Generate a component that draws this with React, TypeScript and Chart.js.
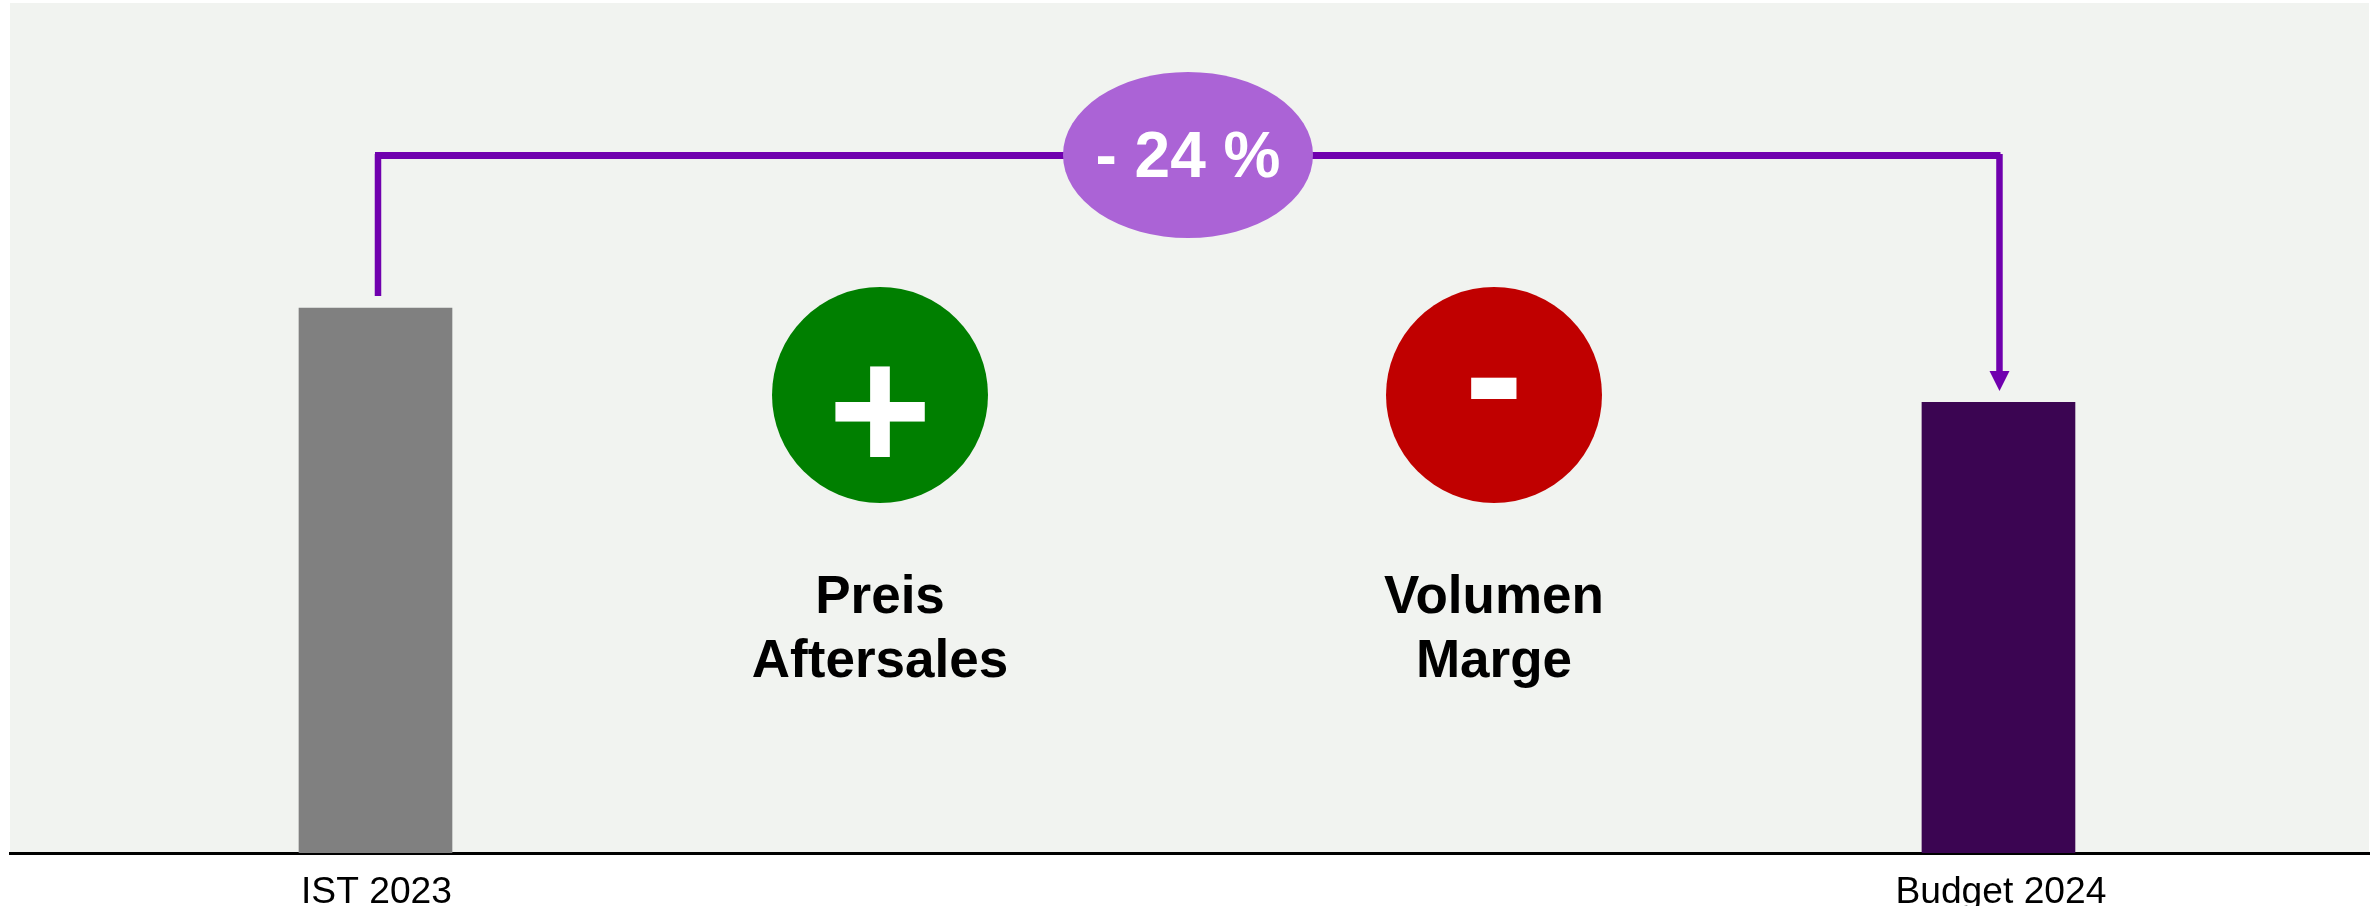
import React, { useEffect, useRef } from "react";
import { Chart, registerables } from "chart.js";

Chart.register(...registerables);

const categories = ["IST 2023", "Budget 2024"];
const categoryPositions = [1, 2];
const labelPositions = [1.0006, 2.0015];
const barValues = [100, 82.7];
const barColors = ["#808080", "#3B0552"];
const changeLabel = "- 24 %";
const positiveDrivers = ["Preis", "Aftersales"];
const negativeDrivers = ["Volumen", "Marge"];

const FONT = '"Liberation Sans", Arial, sans-serif';
const PURPLE = "#7000AE";

const overlay = {
  id: "overlay",
  beforeDraw(chart: any) {
    const { ctx, chartArea: a } = chart;
    ctx.save();
    ctx.fillStyle = "#F1F3F0";
    ctx.fillRect(a.left, 3, a.right - a.left, a.bottom - 3);
    ctx.restore();
  },
  afterDraw(chart: any) {
    const { ctx } = chart;
    const xs = chart.scales.x;
    const x1 = xs.getPixelForValue(categoryPositions[0]) + 2.5;
    const x2 = xs.getPixelForValue(categoryPositions[1]) + 1;
    ctx.save();

    // connector
    ctx.strokeStyle = PURPLE;
    ctx.lineWidth = 7;
    ctx.beginPath();
    ctx.moveTo(x1 - 3, 155.5);
    ctx.lineTo(x2 + 1, 155.5);
    ctx.stroke();
    ctx.lineWidth = 6.5;
    ctx.beginPath();
    ctx.moveTo(x1, 154);
    ctx.lineTo(x1, 296);
    ctx.stroke();
    ctx.beginPath();
    ctx.moveTo(x2, 154);
    ctx.lineTo(x2, 373);
    ctx.stroke();
    ctx.fillStyle = PURPLE;
    ctx.beginPath();
    ctx.moveTo(x2 - 10, 371);
    ctx.lineTo(x2 + 10, 371);
    ctx.lineTo(x2, 391);
    ctx.closePath();
    ctx.fill();

    // change badge
    ctx.fillStyle = "#AB63D6";
    ctx.beginPath();
    ctx.ellipse(1188, 155, 125, 83, 0, 0, Math.PI * 2);
    ctx.fill();
    ctx.fillStyle = "#FFFFFF";
    ctx.textAlign = "center";
    ctx.textBaseline = "alphabetic";
    ctx.font = `bold 64px ${FONT}`;
    ctx.fillText(changeLabel, 1188, 177);

    // driver circles
    const circles: [number, string, string, string[]][] = [
      [880, "#007F00", "+", positiveDrivers],
      [1494, "#C00000", "-", negativeDrivers],
    ];
    for (const [cx, color, sign, lines] of circles) {
      ctx.fillStyle = color;
      ctx.beginPath();
      ctx.ellipse(cx, 395, 108, 108, 0, 0, Math.PI * 2);
      ctx.fill();
      ctx.fillStyle = "#FFFFFF";
      ctx.font = `bold 178px ${FONT}`;
      ctx.fillText(sign, cx, sign === "+" ? 471 : 435);
      ctx.fillStyle = "#000000";
      ctx.font = `bold 53px ${FONT}`;
      ctx.fillText(lines[0], cx, 613);
      ctx.fillText(lines[1], cx, 677);
    }
    ctx.restore();
  },
};

export default function App() {
  const ref = useRef<HTMLCanvasElement>(null);
  useEffect(() => {
    const chart = new Chart(ref.current!, {
      type: "bar",
      data: {
        datasets: [
          {
            data: categoryPositions.map((x, i) => ({ x, y: barValues[i] })),
            backgroundColor: barColors,
            barThickness: 153,
            borderWidth: 0,
          },
        ],
      },
      options: {
        animation: false,
        responsive: false,
        events: [],
        layout: { padding: { left: 10, right: 10, top: 3, bottom: 0 } },
        plugins: { legend: { display: false }, tooltip: { enabled: false } },
        scales: {
          x: {
            type: "linear",
            offset: false,
            min: 0.7748,
            max: 2.2283,
            afterFit(scale: any) {
              scale.height = 53;
            },
            afterBuildTicks(scale: any) {
              scale.ticks = labelPositions.map((value) => ({ value }));
            },
            grid: { display: false, drawTicks: false },
            border: { display: true, color: "#000000", width: 3 },
            ticks: {
              autoSkip: false,
              maxRotation: 0,
              padding: 17,
              color: "#000000",
              font: { family: FONT, size: 37.2 },
              callback: (_v: any, i: number) => categories[i] ?? "",
            },
          },
          y: { display: false, min: 0, max: 156 },
        },
      },
      plugins: [overlay],
    } as any);
    return () => chart.destroy();
  }, []);
  return (
    <canvas
      ref={ref}
      width={2379}
      height={906}
      style={{ position: "absolute", left: 0, top: 0, display: "block" }}
    />
  );
}
